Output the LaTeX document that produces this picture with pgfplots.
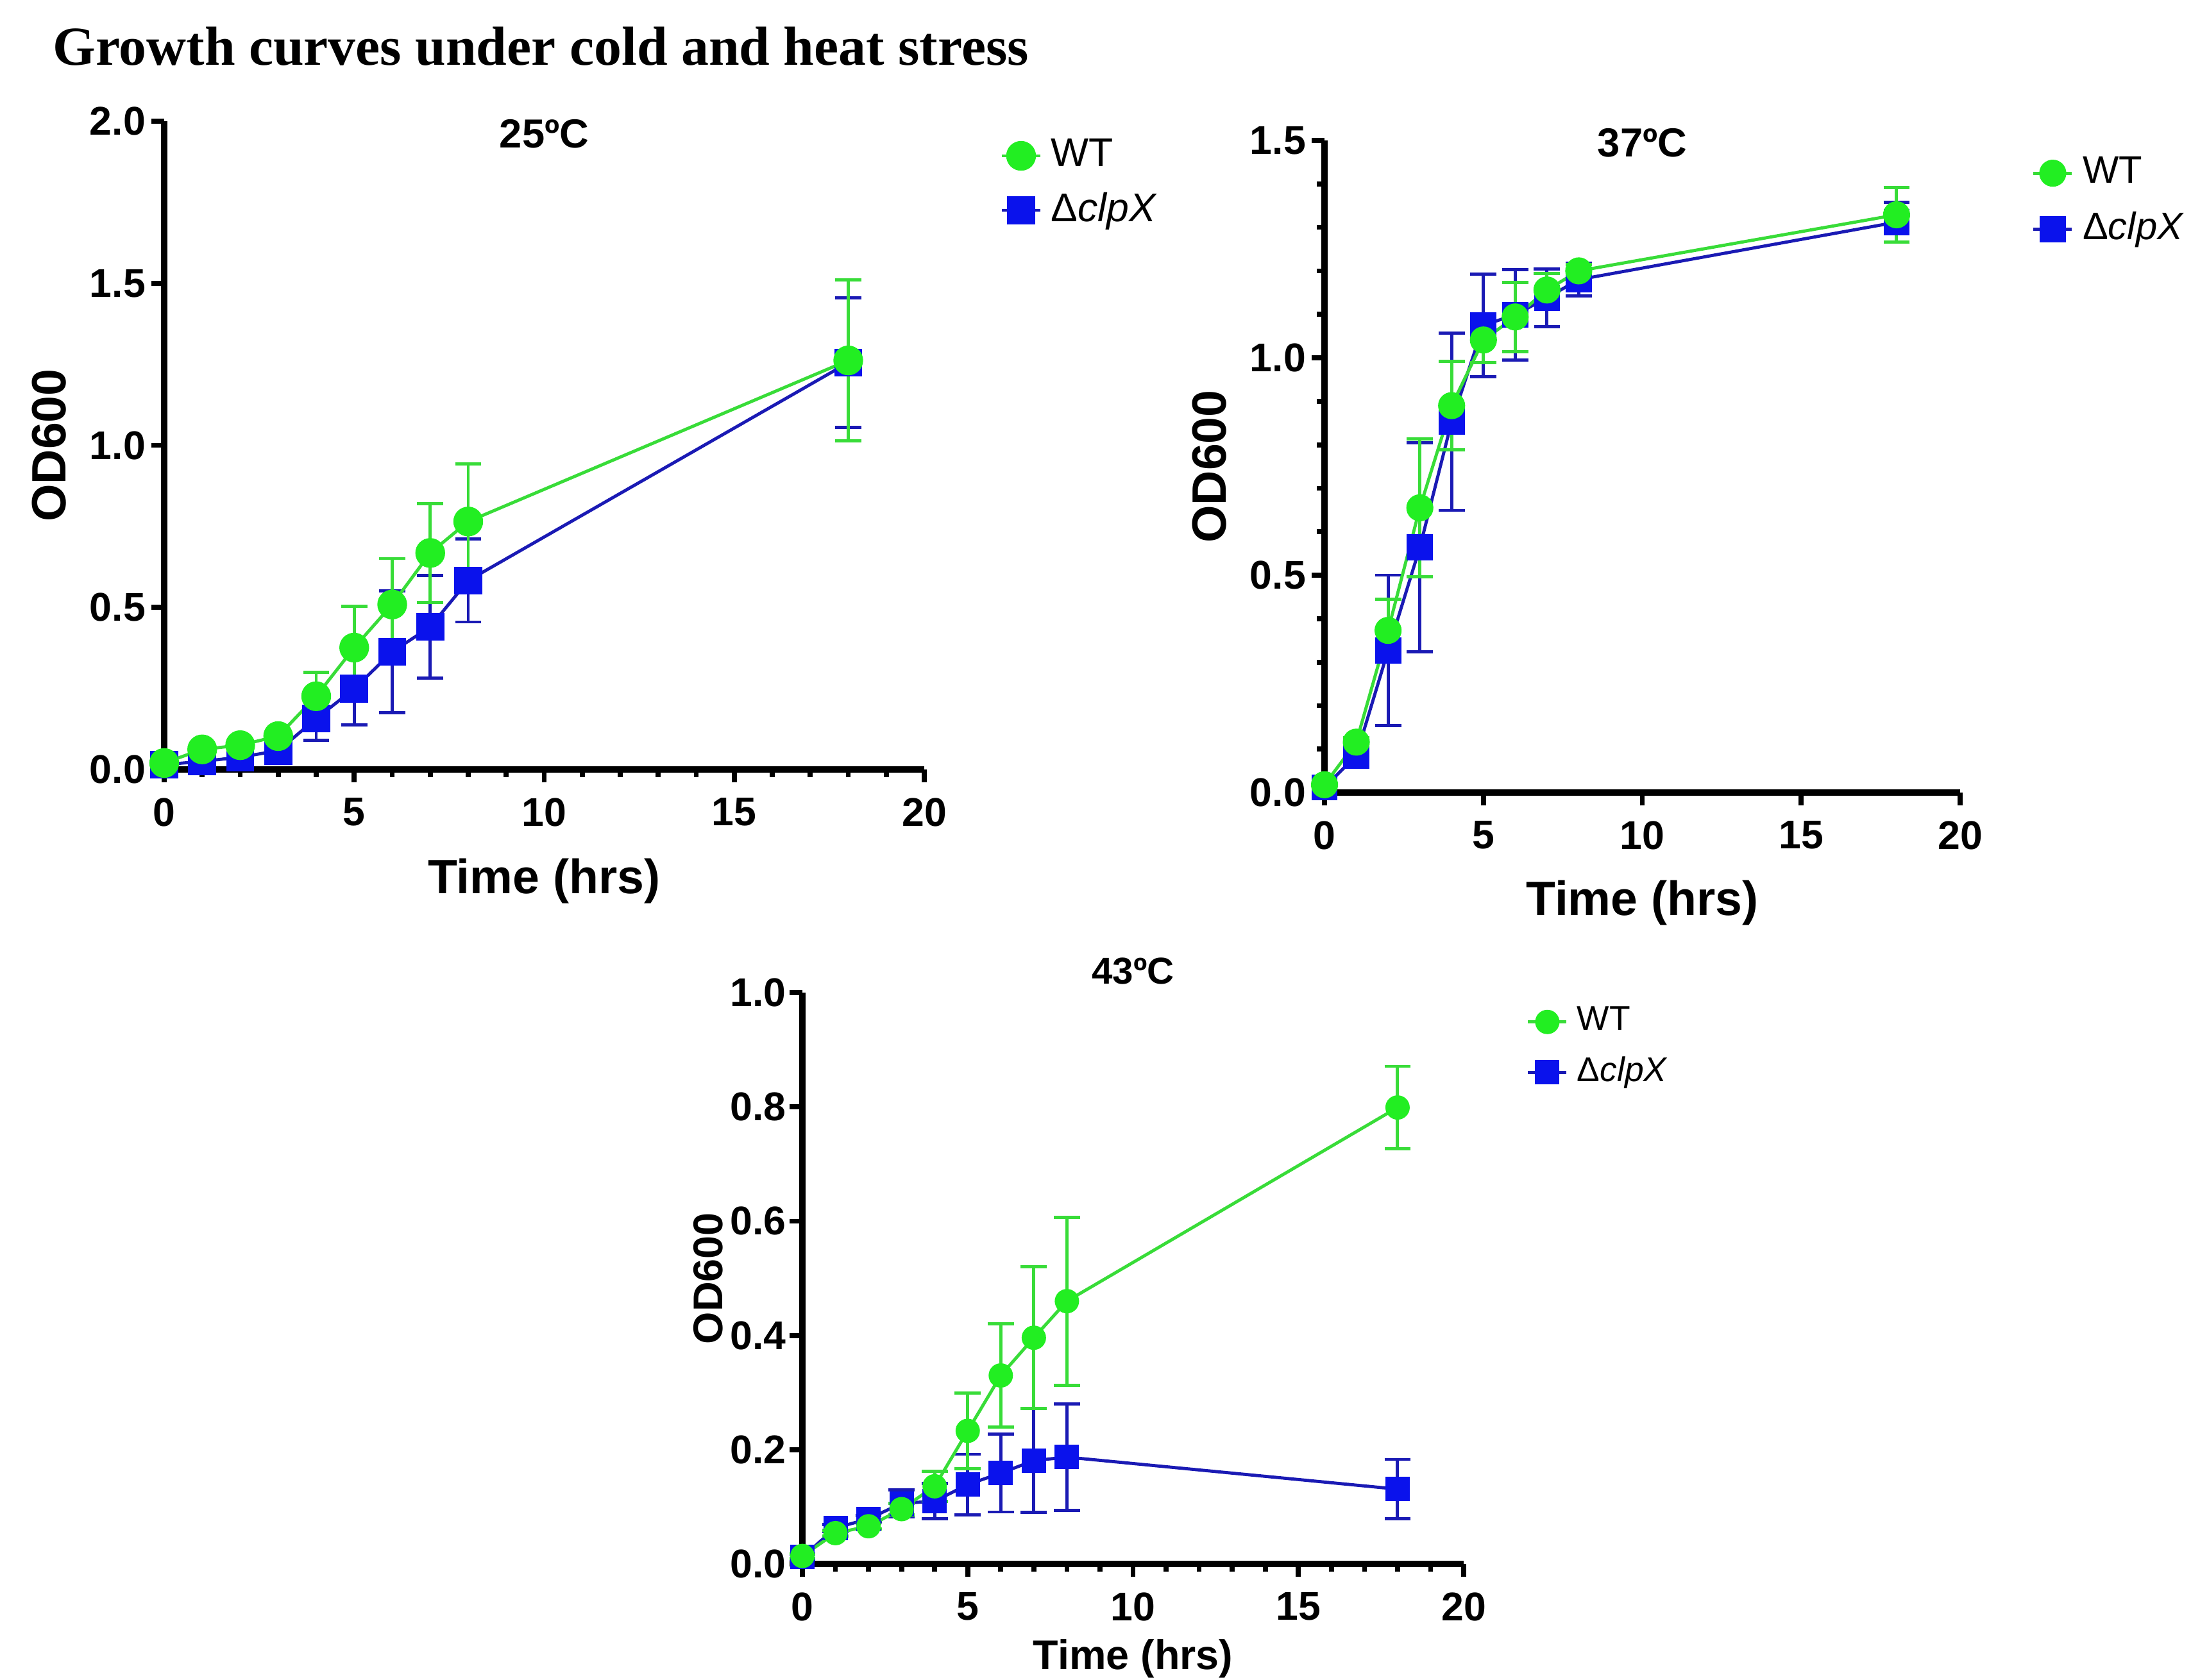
\documentclass[border=0pt]{standalone}
\usepackage{fontspec}
\setmainfont{Liberation Sans}
\newfontfamily\titlefont{Liberation Serif}
\usepackage{pgfplots}
\pgfplotsset{compat=1.18}

\definecolor{wtMark}{HTML}{22EE22}
\definecolor{wtLine}{HTML}{38DC38}
\definecolor{koMark}{HTML}{0A12EC}
\definecolor{koLine}{HTML}{1A1AB4}

\pgfplotsset{
  gc axis/.style={
    scale only axis,
    anchor=south west,
    axis lines=left,
    axis line style={-, line width=1.3pt, black},
    tick align=outside,
    major tick length=0.1cm,
    minor tick length=0.06cm,
    every tick/.style={black, line width=1.1pt},
    xmin=0, xmax=20, ymin=0,
    xtick={0,5,10,15,20},
    tick label style={font=\fontsize{8.9}{10}\selectfont\bfseries},
    /pgf/number format/assume math mode=true,
    y tick label style={inner sep=1.1pt, /pgf/number format/fixed, /pgf/number format/fixed zerofill, /pgf/number format/precision=1},
    label style={font=\fontsize{10.7}{12}\selectfont\bfseries},
    ylabel style={anchor=center},
    xlabel style={anchor=base},
    xlabel={Time (hrs)},
    ylabel={OD600},
    clip=false,
    legend cell align=left,
    reverse legend,
    legend style={draw=none, fill=none, anchor=north west, inner sep=0pt, outer sep=0pt,
      font=\fontsize{8.9}{10}\selectfont, row sep=0.3pt},
    legend image code/.code={\draw[mark repeat=2, mark phase=2, #1]
      plot coordinates {(0cm,0cm) (0.15cm,0cm) (0.3cm,0cm)};},
  },
  wt/.style={wtLine, line width=0.7pt, mark=*, mark size=#1,
    mark options={solid, fill=wtMark, draw=wtMark, line width=0.2pt},
    error bars/.cd, y dir=both, y explicit,
    error bar style={line width=0.7pt, wtLine},
    error mark options={rotate=90, mark size=2.9pt, line width=0.7pt, wtLine}},
  ko/.style={koLine, line width=0.7pt, mark=square*, mark size=#1,
    mark options={solid, fill=koMark, draw=koMark, line width=0.2pt},
    error bars/.cd, y dir=both, y explicit,
    error bar style={line width=0.7pt, koLine},
    error mark options={rotate=90, mark size=2.9pt, line width=0.7pt, koLine}},
}

\begin{document}
\begin{tikzpicture}
\useasboundingbox (0,0) rectangle (17.15cm,-13.095cm);

\node[anchor=base west, inner sep=0pt, font=\titlefont\fontsize{12.2}{14}\selectfont\bfseries]
  at (0.405cm,-0.505cm) {Growth curves under cold and heat stress};

% ---- 25 C ----
\begin{axis}[gc axis,
  at={(1.28cm,-6.0cm)}, width=5.925cm, height=5.055cm,
  ymax=2.0, ytick={0,0.5,1.0,1.5,2.0},
  minor x tick num=4,
  xlabel style={at={(rel axis cs:0.5,-0.191)}},
  ylabel style={at={(rel axis cs:-0.151,0.5)}},
  legend style={at={(rel axis cs:1.100,0.987)}},
]
  \addplot[ko=3.0pt] coordinates {
    (0,0.015) +- (0,0.005)
    (1,0.025) +- (0,0.008)
    (2,0.038) +- (0,0.008)
    (3,0.058) +- (0,0.01)
    (4,0.157) +- (0,0.067)
    (5,0.249) +- (0,0.112)
    (6,0.363) +- (0,0.188)
    (7,0.440) +- (0,0.158)
    (8,0.583) +- (0,0.128)
    (18,1.255) +- (0,0.200)
  };
  \addlegendentry{Δ\textit{clpX}}
  \addplot[wt=3.2pt] coordinates {
    (0,0.020) +- (0,0.005)
    (1,0.062) +- (0,0.01)
    (2,0.075) +- (0,0.01)
    (3,0.103) +- (0,0.01)
    (4,0.226) +- (0,0.074)
    (5,0.376) +- (0,0.128)
    (6,0.509) +- (0,0.142)
    (7,0.668) +- (0,0.152)
    (8,0.765) +- (0,0.178)
    (18,1.262) +- (0,0.248)
  };
  \addlegendentry{WT}
  \node[font=\fontsize{9}{10}\selectfont\bfseries, anchor=center]
    at (rel axis cs:0.5,0.981) {25ºC};
\end{axis}

% ---- 37 C ----
\begin{axis}[gc axis,
  at={(10.325cm,-6.18cm)}, width=4.955cm, height=5.085cm,
  ymax=1.5, ytick={0,0.5,1.0,1.5},
  minor y tick num=4,
  xlabel style={at={(rel axis cs:0.5,-0.188)}},
  ylabel style={at={(rel axis cs:-0.181,0.5)}},
  legend style={at={(rel axis cs:1.113,0.989)}, font=\fontsize{8.5}{10}\selectfont, row sep=0.9pt},
]
  \addplot[ko=2.8pt] coordinates {
    (0,0.012) +- (0,0.005)
    (1,0.085) +- (0,0.01)
    (2,0.327) +- (0,0.173)
    (3,0.564) +- (0,0.240)
    (4,0.853) +- (0,0.204)
    (5,1.075) +- (0,0.118)
    (6,1.099) +- (0,0.104)
    (7,1.138) +- (0,0.066)
    (8,1.180) +- (0,0.038)
    (18,1.312) +- (0,0.046)
  };
  \addlegendentry{Δ\textit{clpX}}
  \addplot[wt=2.9pt] coordinates {
    (0,0.018) +- (0,0.005)
    (1,0.116) +- (0,0.01)
    (2,0.373) +- (0,0.072)
    (3,0.655) +- (0,0.158)
    (4,0.890) +- (0,0.102)
    (5,1.041) +- (0,0.052)
    (6,1.094) +- (0,0.080)
    (7,1.156) +- (0,0.038)
    (8,1.200) +- (0,0.015)
    (18,1.329) +- (0,0.063)
  };
  \addlegendentry{WT}
  \node[font=\fontsize{9}{10}\selectfont\bfseries, anchor=center]
    at (rel axis cs:0.5,0.996) {37ºC};
\end{axis}

% ---- 43 C ----
\begin{axis}[gc axis,
  at={(6.255cm,-12.195cm)}, width=5.155cm, height=4.455cm,
  ymax=1.0, ytick={0,0.2,0.4,0.6,0.8,1.0},
  minor x tick num=4,
  y tick label style={inner sep=0.6pt},
  label style={font=\fontsize{9.2}{11}\selectfont\bfseries},
  xlabel style={at={(rel axis cs:0.5,-0.185)}},
  ylabel style={at={(rel axis cs:-0.142,0.5)}},
  legend style={at={(rel axis cs:1.095,0.991)}, font=\fontsize{7.6}{9}\selectfont},
]
  \addplot[ko=2.6pt] coordinates {
    (0,0.012) +- (0,0.005)
    (1,0.063) +- (0,0.006)
    (2,0.079) +- (0,0.006)
    (3,0.106) +- (0,0.024)
    (4,0.110) +- (0,0.031)
    (5,0.139) +- (0,0.053)
    (6,0.159) +- (0,0.068)
    (7,0.181) +- (0,0.091)
    (8,0.187) +- (0,0.093)
    (18,0.131) +- (0,0.052)
  };
  \addlegendentry{Δ\textit{clpX}}
  \addplot[wt=2.6pt] coordinates {
    (0,0.014) +- (0,0.004)
    (1,0.054) +- (0,0.005)
    (2,0.066) +- (0,0.005)
    (3,0.096) +- (0,0.010)
    (4,0.136) +- (0,0.026)
    (5,0.233) +- (0,0.066)
    (6,0.330) +- (0,0.090)
    (7,0.396) +- (0,0.124)
    (8,0.460) +- (0,0.147)
    (18,0.799) +- (0,0.072)
  };
  \addlegendentry{WT}
  \node[font=\fontsize{8.3}{9}\selectfont\bfseries, anchor=center]
    at (rel axis cs:0.5,1.038) {43ºC};
\end{axis}
\end{tikzpicture}
\end{document}
